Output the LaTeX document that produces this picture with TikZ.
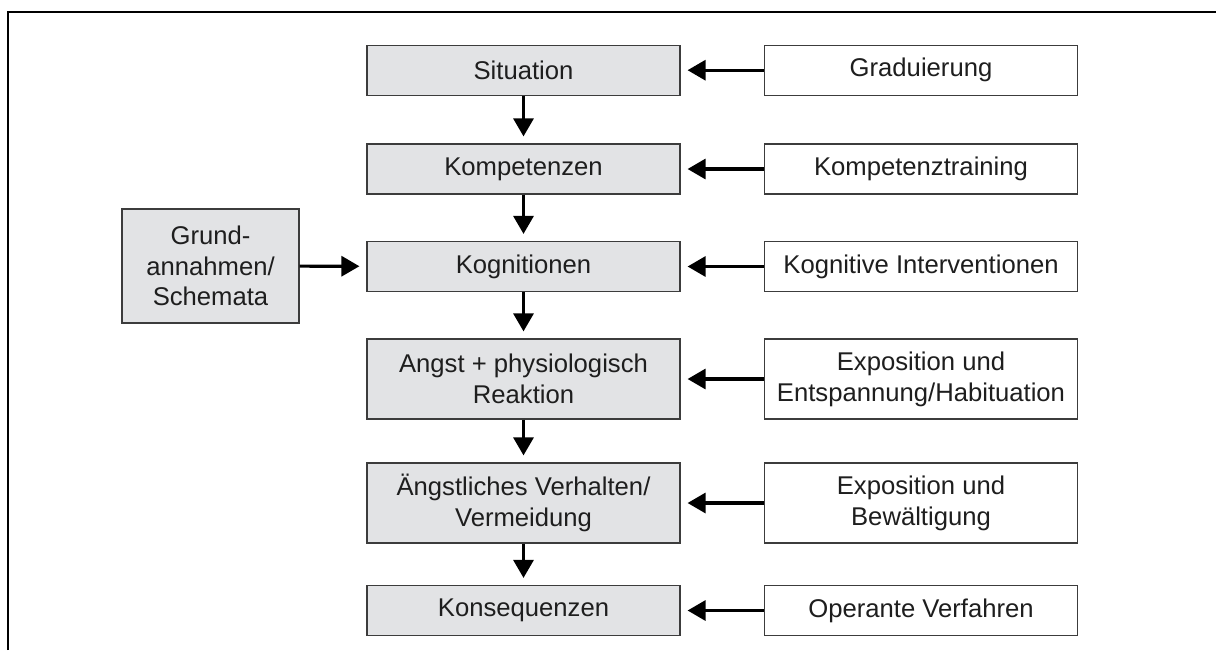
\documentclass[tikz,border=0pt]{standalone}
\usepackage{fontspec}
\setmainfont{Liberation Sans}
\usetikzlibrary{arrows.meta}

\definecolor{boxgray}{RGB}{226,227,229}
\definecolor{linegray}{RGB}{60,60,60}
\definecolor{textgray}{RGB}{30,30,30}

\tikzset{
  mainbox/.style={draw=linegray, line width=0.7pt, fill=boxgray, minimum width=6.26cm, minimum height=1cm, align=center, inner sep=2pt, text=textgray},
  methodbox/.style={draw=linegray, line width=0.7pt, fill=white, minimum width=6.26cm, minimum height=1cm, align=center, inner sep=2pt, text=textgray},
  flow/.style={-{Triangle[length=0.36cm, width=0.4cm]}, line width=1.8pt, shorten >=0.14cm}
}

\begin{document}
\begin{tikzpicture}[x=0.02cm, y=-0.02cm, font=\fontsize{14.6}{17.5}\selectfont]
   \useasboundingbox (0,0) rectangle (1216,650);
   \draw[line width=1pt] (8,650) -- (8,12) -- (1216,12);

   % Ablauf
   \node[mainbox] (sit)  at (523.5,70.2)  {Situation};
   \node[mainbox] (komp) at (523.5,169)   {Kompetenzen};
   \node[mainbox] (kog)  at (523.5,266.5) {Kognitionen};
   \node[mainbox, minimum height=1.6cm] (angst) at (523.5,379) {Angst + physiologisch\\Reaktion};
   \node[mainbox, minimum height=1.6cm] (verh)  at (523.5,503) {Ängstliches Verhalten/\\Vermeidung};
   \node[mainbox] (kons) at (523.5,610.5) {Konsequenzen};

   \node[mainbox, minimum width=3.54cm, minimum height=2.28cm] (grund) at (210.5,266) {Grund-\\annahmen/\\Schemata};

   % Interventionen
   \node[methodbox] (grad)   at (921,70.2)  {Graduierung};
   \node[methodbox] (ktrain) at (921,169)   {Kompetenztraining};
   \node[methodbox] (kint)   at (921,266.5) {Kognitive Interventionen};
   \node[methodbox, minimum height=1.6cm] (expent) at (921,379) {Exposition und\\Entspannung/Habituation};
   \node[methodbox, minimum height=1.6cm] (expbew) at (921,503) {Exposition und\\Bewältigung};
   \node[methodbox] (oper)   at (921,610.5) {Operante Verfahren};

   \draw[flow] (sit) -- (komp);
   \draw[flow] (komp) -- (kog);
   \draw[flow] (kog) -- (angst);
   \draw[flow] (angst) -- (verh);
   \draw[flow] (verh) -- (kons);
   \draw[flow] (grund) -- (kog);

   \draw[flow] (grad) -- (sit);
   \draw[flow] (ktrain) -- (komp);
   \draw[flow] (kint) -- (kog);
   \draw[flow] (expent) -- (angst);
   \draw[flow] (expbew) -- (verh);
   \draw[flow] (oper) -- (kons);
\end{tikzpicture}
\end{document}
